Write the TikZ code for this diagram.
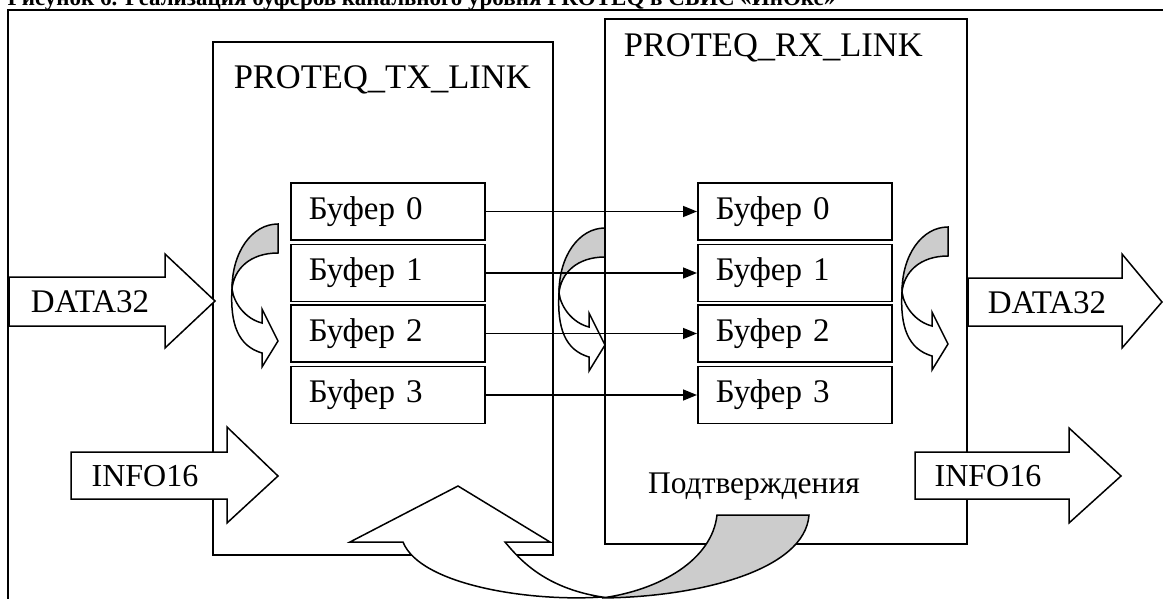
\documentclass[tikz,border=0pt]{standalone}
\usepackage{fontspec}
\setmainfont{Liberation Serif}
\usetikzlibrary{arrows.meta}
\newcommand{\sidecurve}[2]{%
  \begin{scope}[shift={(#1,#2)}]
    \draw[backband] (0,0) .. controls (-26,0) and (-46,28) .. (-46,65)
      .. controls (-44,45) and (-28,29) .. (0,29) -- cycle;
    \draw[frontband] (-46,65) .. controls (-48,100) and (-40,122) .. (-16,129)
      -- (-16,143) -- (0,117) -- (-16,85) -- (-16,99)
      .. controls (-32,95) and (-44,80) .. (-46,65) -- cycle;
  \end{scope}}
\begin{document}
\begin{tikzpicture}[x=1pt,y=-1pt, line width=1.5pt, line join=miter,
  lbl/.style={font=\fontsize{32}{36}\selectfont, inner sep=0pt},
  ttl/.style={font=\fontsize{34.5}{38}\selectfont, inner sep=0pt},
  buf/.style={draw, fill=white, font=\fontsize{33}{36}\selectfont, minimum height=57pt,
    text width=158pt, inner xsep=18pt, inner ysep=0pt, align=left, anchor=west},
  conn/.style={-{Triangle[length=14pt,width=11pt]}},
  blockarrow/.style={draw, fill=white},
  backband/.style={draw, fill=gray!40},
  frontband/.style={draw, fill=white}]
\useasboundingbox (0,0) rectangle (1163,599);

% caption (cut off at the top, as in the original)
\node[anchor=base west, inner sep=0pt, font=\bfseries\fontsize{23}{26}\selectfont] (cap) at (7,6)
  {Рисунок 6. Реализация буферов канального уровня PROTEQ в СБИС «ИнОкс»};

% outer frame
\draw[line width=2pt] (8,610) -- (8,10) -- (1175,10);

% side curved arrows
\sidecurve{278}{224}
\sidecurve{605}{228}
\sidecurve{948}{227}

% link blocks
\draw (213,42) rectangle (553,555);
\draw (605,19) rectangle (967,544);
\node[ttl, anchor=west] (txt) at (233,80) {PROTEQ\_TX\_LINK};
\node[ttl, anchor=west] (rxt) at (623,48) {PROTEQ\_RX\_LINK};

% bottom acknowledgement arrow
\draw[frontband] (350,542) -- (458,486) -- (550,542) -- (505,542)
  .. controls (520,560) and (545,588) .. (602,597)
  .. controls (530,602) and (420,585) .. (403,542) -- cycle;
\draw[backband] (717,515) -- (809,515)
  .. controls (805,570) and (700,597) .. (602,598)
  .. controls (660,590) and (712,560) .. (717,515) -- cycle;
\node[lbl, font=\fontsize{31.5}{36}\selectfont] (ack) at (754,487) {Подтверждения};

% block arrows
\draw[blockarrow] (9,277) -- (165,277) -- (165,254) -- (215,301) -- (165,348) -- (165,326) -- (9,326) -- cycle;
\node[lbl, font=\fontsize{33}{36}\selectfont] (din) at (90,302) {DATA32};
\draw[blockarrow] (968,278) -- (1122,278) -- (1122,254) -- (1162,302) -- (1122,348) -- (1122,326) -- (968,326) -- cycle;
\node[lbl, font=\fontsize{33}{36}\selectfont] (dout) at (1047,303) {DATA32};
\draw[blockarrow] (71,452) -- (227,452) -- (227,427) -- (278,476) -- (227,523) -- (227,499) -- (71,499) -- cycle;
\node[lbl] (iin) at (145,476) {INFO16};
\draw[blockarrow] (915,452) -- (1069,452) -- (1069,428) -- (1121,476) -- (1069,523) -- (1069,499) -- (915,499) -- cycle;
\node[lbl] (iout) at (988,476) {INFO16};

% buffers
\node[buf] (tx0) at (290,211.5) {Буфер 0};
\node[buf] (tx1) at (290,273) {Буфер 1};
\node[buf] (tx2) at (290,333.5) {Буфер 2};
\node[buf] (tx3) at (290,395) {Буфер 3};
\node[buf] (rx0) at (697,211.5) {Буфер 0};
\node[buf] (rx1) at (697,273) {Буфер 1};
\node[buf] (rx2) at (697,333.5) {Буфер 2};
\node[buf] (rx3) at (697,395) {Буфер 3};

\draw[conn] (tx0.east) -- (rx0.west);
\draw[conn] (tx1.east) -- (rx1.west);
\draw[conn] (tx2.east) -- (rx2.west);
\draw[conn] (tx3.east) -- (rx3.west);
\end{tikzpicture}
\end{document}
